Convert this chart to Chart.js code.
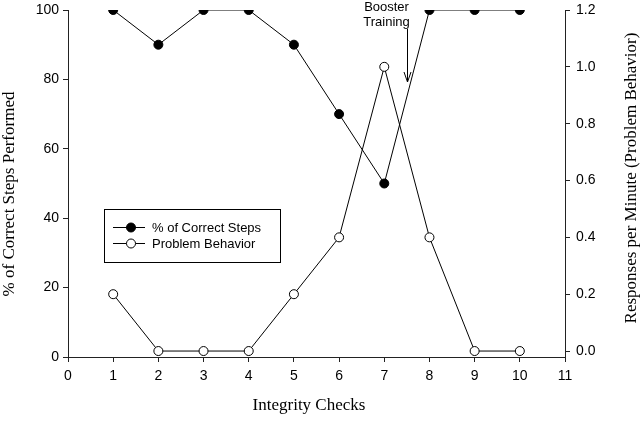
<!DOCTYPE html>
<html>
<head>
<meta charset="utf-8">
<script src="https://cdn.jsdelivr.net/npm/chart.js@4"></script>
<style>
  html, body { margin: 0; padding: 0; background: #fff; }
  canvas { display: block; }
</style>
</head>
<body>
<canvas id="chart" width="640" height="421"></canvas>
<script>
const checks = [1, 2, 3, 4, 5, 6, 7, 8, 9, 10];
const correctSteps = [100, 90, 100, 100, 90, 70, 50, 100, 100, 100];
const problemBehavior = [0.2, 0, 0, 0, 0.2, 0.4, 1.0, 0.4, 0, 0];
const rightTicks = [0, 0.2, 0.4, 0.6, 0.8, 1.0, 1.2];

const tickFont = { family: 'Liberation Sans, Arial, sans-serif', size: 14 };
const titleFont = '17px "Liberation Serif", "Times New Roman", serif';
const ink = '#000';
const axisInk = '#222';

// axis titles, legend box and booster arrow
const decorations = {
    id: 'decorations',
    afterDraw(chart) {
        const ctx = chart.ctx;
        const area = chart.chartArea;
        ctx.save();
        ctx.fillStyle = ink;
        ctx.font = titleFont;
        ctx.textAlign = 'center';
        ctx.textBaseline = 'middle';

        ctx.fillText('Integrity Checks', 309, 406);

        ctx.save();
        ctx.translate(10, 194);
        ctx.rotate(-Math.PI / 2);
        ctx.fillText('% of Correct Steps Performed', 0, 0);
        ctx.restore();

        ctx.save();
        ctx.translate(632, 178);
        ctx.rotate(-Math.PI / 2);
        ctx.fillText('Responses per Minute (Problem Behavior)', 0, 0);
        ctx.restore();

        // legend
        ctx.strokeStyle = ink;
        ctx.lineWidth = 1;
        ctx.strokeRect(104.5, 209.5, 176, 53);
        const rows = [
            { label: '% of Correct Steps', fill: ink, y: 227 },
            { label: 'Problem Behavior', fill: '#fff', y: 243 }
        ];
        ctx.font = '13px "Liberation Sans", Arial, sans-serif';
        ctx.textAlign = 'left';
        rows.forEach(r => {
            ctx.beginPath();
            ctx.moveTo(113, r.y + 0.5);
            ctx.lineTo(145, r.y + 0.5);
            ctx.stroke();
            ctx.beginPath();
            ctx.arc(131, r.y + 0.5, 4.5, 0, Math.PI * 2);
            ctx.fillStyle = r.fill;
            ctx.fill();
            ctx.stroke();
            ctx.fillStyle = ink;
            ctx.fillText(r.label, 152, r.y + 1);
        });

        // booster training annotation
        const ax = Math.round(chart.scales.x.getPixelForValue(7.5)) + 0.5;
        const tx = chart.scales.x.getPixelForValue(7.05);
        ctx.textAlign = 'center';
        ctx.fillText('Booster', tx, area.top - 3);
        ctx.fillText('Training', tx, area.top + 12);
        ctx.beginPath();
        ctx.moveTo(ax, area.top + 19);
        ctx.lineTo(ax, area.top + 72);
        ctx.moveTo(ax - 3.5, area.top + 62);
        ctx.lineTo(ax, area.top + 72);
        ctx.lineTo(ax + 3.5, area.top + 62);
        ctx.stroke();
        ctx.restore();
    }
};

const axisGrid = {
    display: true,
    drawOnChartArea: false,
    drawTicks: true,
    tickLength: 5,
    color: axisInk
};
const axisBorder = { display: true, color: axisInk, width: 1 };

function noPad(s) {
    s.paddingTop = 0;
    s.paddingBottom = 0;
    s.paddingLeft = 0;
    s.paddingRight = 0;
}

new Chart(document.getElementById('chart'), {
    type: 'line',
    data: {
        datasets: [{
            label: '% of Correct Steps',
            data: checks.map((c, i) => ({ x: c, y: correctSteps[i] })),
            yAxisID: 'y',
            borderColor: ink,
            borderWidth: 1,
            backgroundColor: ink,
            pointBackgroundColor: ink,
            pointBorderColor: ink,
            pointRadius: 4.5,
            pointBorderWidth: 1
        }, {
            label: 'Problem Behavior',
            data: checks.map((c, i) => ({ x: c, y: problemBehavior[i] })),
            yAxisID: 'y1',
            borderColor: ink,
            borderWidth: 1,
            backgroundColor: '#fff',
            pointBackgroundColor: '#fff',
            pointBorderColor: ink,
            pointRadius: 4.5,
            pointBorderWidth: 1
        }]
    },
    options: {
        responsive: false,
        animation: false,
        layout: { padding: { top: 10, left: 0, right: 0, bottom: 0 } },
        plugins: { legend: { display: false }, tooltip: { enabled: false } },
        scales: {
            x: {
                type: 'linear',
                min: 0,
                max: 11,
                ticks: { stepSize: 1, color: ink, font: tickFont, padding: 6 },
                grid: axisGrid,
                border: axisBorder,
                afterFit(s) { s.height = 64; noPad(s); }
            },
            y: {
                position: 'left',
                min: 0,
                max: 100,
                ticks: { stepSize: 20, color: ink, font: tickFont, padding: 4 },
                grid: axisGrid,
                border: axisBorder,
                afterFit(s) { s.width = 68; noPad(s); }
            },
            y1: {
                position: 'right',
                min: -0.021,
                max: 1.2,
                afterBuildTicks(s) { s.ticks = rightTicks.map(v => ({ value: v })); },
                ticks: {
                    color: ink,
                    font: tickFont,
                    padding: 6,
                    callback: v => v.toFixed(1)
                },
                grid: axisGrid,
                border: axisBorder,
                afterFit(s) { s.width = 75; noPad(s); }
            }
        }
    },
    plugins: [decorations]
});
</script>
</body>
</html>
